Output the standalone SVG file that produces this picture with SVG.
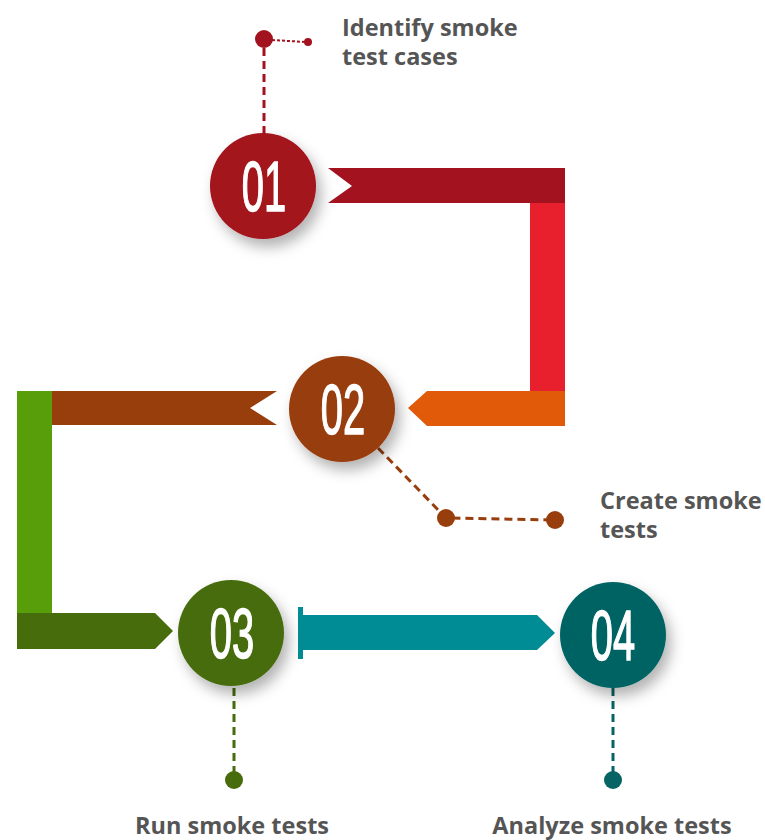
<svg xmlns="http://www.w3.org/2000/svg" width="765" height="840" viewBox="0 0 765 840">
  <defs>
    <style>
      .label { font-family: "Open Sans", "Liberation Sans", sans-serif; font-weight: 700; font-size: 23.5px; fill: #555555; }
      .num { font-family: "Liberation Sans", Arial, sans-serif; font-weight: 400; font-size: 70px; fill: #ffffff; text-anchor: middle; stroke: #ffffff; stroke-width: 1.5; }
      .dash { fill: none; stroke-width: 3; stroke-dasharray: 8 5; }
    </style>
    <filter id="shadow" x="-40%" y="-40%" width="190%" height="190%">
      <feDropShadow dx="5" dy="8" stdDeviation="7" flood-color="#000000" flood-opacity="0.3"/>
    </filter>
  </defs>

  <rect width="765" height="840" fill="#ffffff"/>

  <!-- flow bands between the steps -->
  <g id="connectors">
    <!-- 01 -> 02 -->
    <polygon points="328,168 565,168 565,203 328,203 352,186" fill="#A3121F"/>
    <rect x="530" y="203" width="35" height="188" fill="#E8202E"/>
    <polygon points="427,391 565,391 565,426 427,426 408,408" fill="#E05A0A"/>
    <!-- 02 -> 03 -->
    <polygon points="52,391 277,391 250,408 277,425 52,425" fill="#983D0C"/>
    <rect x="17" y="391" width="35" height="222" fill="#579E0A"/>
    <polygon points="17,613 155,613 173,631 155,649 17,649" fill="#476C0B"/>
    <!-- 03 -> 04 -->
    <rect x="298" y="607" width="5" height="52" fill="#008C95"/>
    <polygon points="298,615 537,615 555,633 537,650 298,650" fill="#008C95"/>
  </g>

  <!-- step 01 -->
  <g id="step01">
    <line class="dash" x1="264" y1="48" x2="264" y2="134" stroke="#A3121F"/>
    <line x1="272" y1="40" x2="306" y2="42" stroke="#A3121F" stroke-width="2" stroke-dasharray="3 2"/>
    <circle cx="264" cy="39" r="9" fill="#A3121F"/>
    <circle cx="308" cy="42" r="4" fill="#A3121F"/>
    <circle cx="263" cy="186" r="53" fill="#A3121F" filter="url(#shadow)"/>
    <text class="num" transform="translate(264,211) scale(0.57,1)">01</text>
    <text class="label" x="342" y="36">Identify smoke</text>
    <text class="label" x="342" y="65">test cases</text>
  </g>

  <!-- step 02 -->
  <g id="step02">
    <polyline class="dash" points="378,448 446,518 555,520" stroke="#983D0C"/>
    <circle cx="446" cy="518" r="9" fill="#983D0C"/>
    <circle cx="555" cy="520" r="9" fill="#983D0C"/>
    <circle cx="342" cy="409" r="53" fill="#983D0C" filter="url(#shadow)"/>
    <text class="num" transform="translate(343,434) scale(0.57,1)">02</text>
    <text class="label" x="600" y="509">Create smoke</text>
    <text class="label" x="600" y="538">tests</text>
  </g>

  <!-- step 03 -->
  <g id="step03">
    <line class="dash" x1="234" y1="688" x2="234" y2="772" stroke="#476C0B"/>
    <circle cx="234" cy="780" r="9" fill="#476C0B"/>
    <circle cx="231" cy="633" r="53" fill="#476C0B" filter="url(#shadow)"/>
    <text class="num" transform="translate(232,658) scale(0.57,1)">03</text>
    <text class="label" x="232" y="834" text-anchor="middle">Run smoke tests</text>
  </g>

  <!-- step 04 -->
  <g id="step04">
    <line class="dash" x1="613" y1="688" x2="613" y2="772" stroke="#066464"/>
    <circle cx="613" cy="780" r="9" fill="#066464"/>
    <circle cx="613" cy="635" r="53" fill="#066464" filter="url(#shadow)"/>
    <text class="num" transform="translate(613,660) scale(0.57,1)">04</text>
    <text class="label" x="612" y="834" text-anchor="middle">Analyze smoke tests</text>
  </g>
</svg>
